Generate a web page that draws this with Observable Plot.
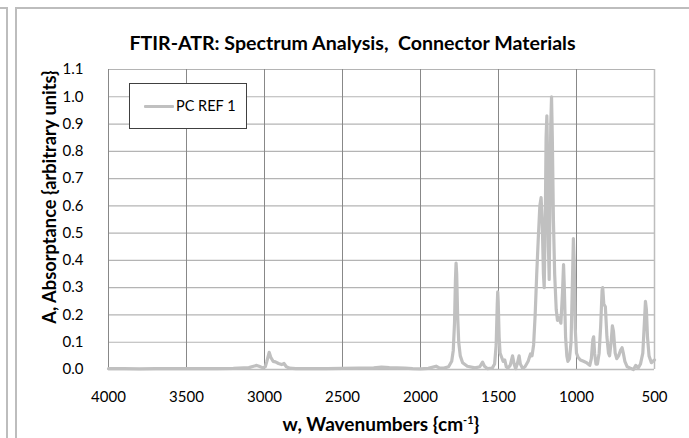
<!DOCTYPE html>
<html>
<head>
<meta charset="utf-8">
<script src="https://cdn.jsdelivr.net/npm/d3@7"></script>
<script src="https://cdn.jsdelivr.net/npm/@observablehq/plot@0.6"></script>
<style>
  html, body { margin: 0; padding: 0; background: #fff; }
  #wrap { position: relative; width: 689px; height: 438px; overflow: hidden; font-family: Lato, "Open Sans", sans-serif; }
  #wrap svg { position: absolute; left: 0; top: 0; }
  .abs { position: absolute; }
  .title { left: 16px; width: 673px; top: 32px; text-align: center; font-weight: bold; font-size: 19.6px; color: #000; line-height: 22px; white-space: pre; }
  .xlab { left: 108px; width: 546px; top: 409px; text-align: center; font-weight: bold; font-size: 19px; line-height: 22px; white-space: nowrap; }
  .ylab { left: 49px; top: 197px; transform: translate(-50%, -50%) rotate(-90deg); white-space: nowrap; font-weight: bold; font-size: 18.3px; line-height: 22px; }
  .legend { left: 129px; top: 83px; width: 118px; height: 46px; border: 1px solid #404040; background: #fff; box-sizing: border-box; }
  .legend .swatch { position: absolute; left: 14px; top: 21px; width: 30px; height: 3px; background: #c0c0c0; border-radius: 1px; }
  .legend .ltxt { position: absolute; left: 46px; top: 13px; font-size: 14.5px; line-height: 18px; color: #000; }
  .fr { background: #bdbdbd; position: absolute; }
</style>
</head>
<body>
<div id="wrap"></div>
<script>
// Wavenumber (cm^-1) and absorptance values
const wavenumbers = [
  4000, 3900, 3800, 3700, 3600, 3500, 3400, 3300, 3200, 3100,
  3070, 3050, 3035, 3010, 2995, 2985, 2970, 2960, 2945, 2930,
  2910, 2890, 2875, 2860, 2840, 2800, 2700, 2600, 2500, 2400,
  2300, 2250, 2200, 2100, 2050, 2000, 1950, 1900, 1880, 1850,
  1820, 1800, 1790, 1782, 1776, 1772, 1768, 1762, 1755, 1745,
  1730, 1700, 1650, 1620, 1602, 1590, 1570, 1540, 1525, 1515,
  1508, 1505, 1502, 1496, 1490, 1480, 1470, 1460, 1450, 1440,
  1425, 1410, 1400, 1390, 1380, 1368, 1360, 1345, 1330, 1310,
  1295, 1285, 1275, 1265, 1255, 1245, 1235, 1227, 1220, 1212,
  1207, 1200, 1195, 1190, 1186, 1180, 1175, 1170, 1165, 1160,
  1155, 1148, 1140, 1130, 1122, 1112, 1100, 1090, 1083, 1078,
  1070, 1062, 1055, 1045, 1035, 1027, 1020, 1015, 1008, 1000,
  990, 975, 955, 935, 915, 905, 895, 890, 884, 875,
  866, 855, 845, 836, 832, 825, 815, 805, 795, 788,
  778, 770, 763, 752, 742, 730, 718, 708, 700, 690,
  675, 655, 635, 620, 605, 590, 575, 565, 558, 552,
  545, 535, 520, 510, 500
];
const absorptance = [
  0.003, 0.003, 0.002, 0.003, 0.003, 0.003, 0.003, 0.003, 0.004, 0.007,
  0.012, 0.015, 0.012, 0.006, 0.010, 0.030, 0.063, 0.045, 0.030, 0.028,
  0.022, 0.018, 0.022, 0.010, 0.005, 0.003, 0.003, 0.003, 0.004, 0.005,
  0.006, 0.009, 0.007, 0.005, 0.003, 0.002, 0.004, 0.012, 0.006, 0.005,
  0.010, 0.030, 0.070, 0.170, 0.330, 0.390, 0.350, 0.200, 0.100, 0.050,
  0.025, 0.012, 0.006, 0.010, 0.027, 0.012, 0.003, 0.005, 0.020, 0.090,
  0.240, 0.285, 0.250, 0.120, 0.060, 0.045, 0.030, 0.035, 0.010, 0.005,
  0.015, 0.050, 0.020, 0.003, 0.020, 0.050, 0.020, 0.004, 0.010, 0.030,
  0.057, 0.050, 0.090, 0.200, 0.350, 0.480, 0.600, 0.630, 0.550, 0.350,
  0.300, 0.550, 0.850, 0.930, 0.800, 0.450, 0.330, 0.600, 0.900, 1.000,
  0.850, 0.550, 0.350, 0.220, 0.180, 0.190, 0.170, 0.280, 0.385, 0.300,
  0.120, 0.050, 0.030, 0.040, 0.100, 0.300, 0.480, 0.400, 0.150, 0.060,
  0.045, 0.035, 0.030, 0.025, 0.015, 0.040, 0.110, 0.120, 0.060, 0.020,
  0.020, 0.060, 0.160, 0.290, 0.300, 0.240, 0.230, 0.120, 0.060, 0.050,
  0.100, 0.160, 0.140, 0.060, 0.040, 0.050, 0.070, 0.080, 0.060, 0.030,
  0.010, 0.005, 0.000, 0.015, 0.005, 0.020, 0.060, 0.170, 0.250, 0.220,
  0.120, 0.050, 0.025, 0.030, 0.035
];
const xTicks = [4000, 3500, 3000, 2500, 2000, 1500, 1000, 500];
const yTicks = [0, 0.1, 0.2, 0.3, 0.4, 0.5, 0.6, 0.7, 0.8, 0.9, 1.0, 1.1];
const seriesName = "PC REF 1";
const titleText = "FTIR-ATR: Spectrum Analysis,  Connector Materials";
const yLabelText = "A, Absorptance {arbitrary units}";

const data = wavenumbers.map((w, i) => ({w, a: absorptance[i]}));

const chart = Plot.plot({
  width: 689,
  height: 438,
  marginLeft: 108,
  marginRight: 35,
  marginTop: 69,
  marginBottom: 69,
  style: { fontFamily: "Lato, 'Open Sans', sans-serif", fontSize: "15px", color: "#000", background: "transparent" },
  x: { domain: [4000, 500], label: null },
  y: { domain: [0, 1.1], label: null },
  marks: [
    Plot.ruleY(yTicks.slice(1), { stroke: "#b4b4b4", strokeWidth: 1.2 }),
    Plot.ruleX(xTicks, { stroke: "#888888", strokeWidth: 1 }),
    Plot.ruleY([0], { stroke: "#bdbdbd", strokeWidth: 1.5 }),
    Plot.ruleX([500], { stroke: "#bdbdbd", strokeWidth: 1.5 }),
    Plot.line(data, { x: "w", y: "a", stroke: "#c0c0c0", strokeWidth: 3.2, strokeLinejoin: "round", strokeLinecap: "round" }),
    Plot.axisX({ ticks: xTicks, tickSize: 0, tickPadding: 22, tickFormat: d => String(d), label: null, fontSize: 15 }),
    Plot.axisY({ ticks: yTicks, tickSize: 0, tickPadding: 25, tickFormat: d => d.toFixed(1), label: null, fontSize: 15 })
  ]
});

const wrap = document.getElementById("wrap");
// outer frame lines
const frames = [
  {l: 0, t: 7, w: 8, h: 2},
  {l: 6, t: 7, w: 2, h: 431},
  {l: 15, t: 7, w: 674, h: 2},
  {l: 15, t: 7, w: 2, h: 431}
];
frames.forEach(f => {
  const d = document.createElement("div");
  d.className = "fr";
  Object.assign(d.style, {left: f.l + "px", top: f.t + "px", width: f.w + "px", height: f.h + "px"});
  wrap.appendChild(d);
});
wrap.appendChild(chart);

const title = document.createElement("div");
title.className = "abs title";
title.textContent = titleText;
wrap.appendChild(title);

const ylab = document.createElement("div");
ylab.className = "abs ylab";
ylab.textContent = yLabelText;
wrap.appendChild(ylab);

const xlab = document.createElement("div");
xlab.className = "abs xlab";
xlab.innerHTML = "w, Wavenumbers {cm<sup style=\"font-size:11px;vertical-align:7px\">-1</sup>}";
wrap.appendChild(xlab);

const legend = document.createElement("div");
legend.className = "abs legend";
legend.innerHTML = '<div class="swatch"></div><div class="ltxt"></div>';
legend.querySelector(".ltxt").textContent = seriesName;
wrap.appendChild(legend);
</script>
</body>
</html>
